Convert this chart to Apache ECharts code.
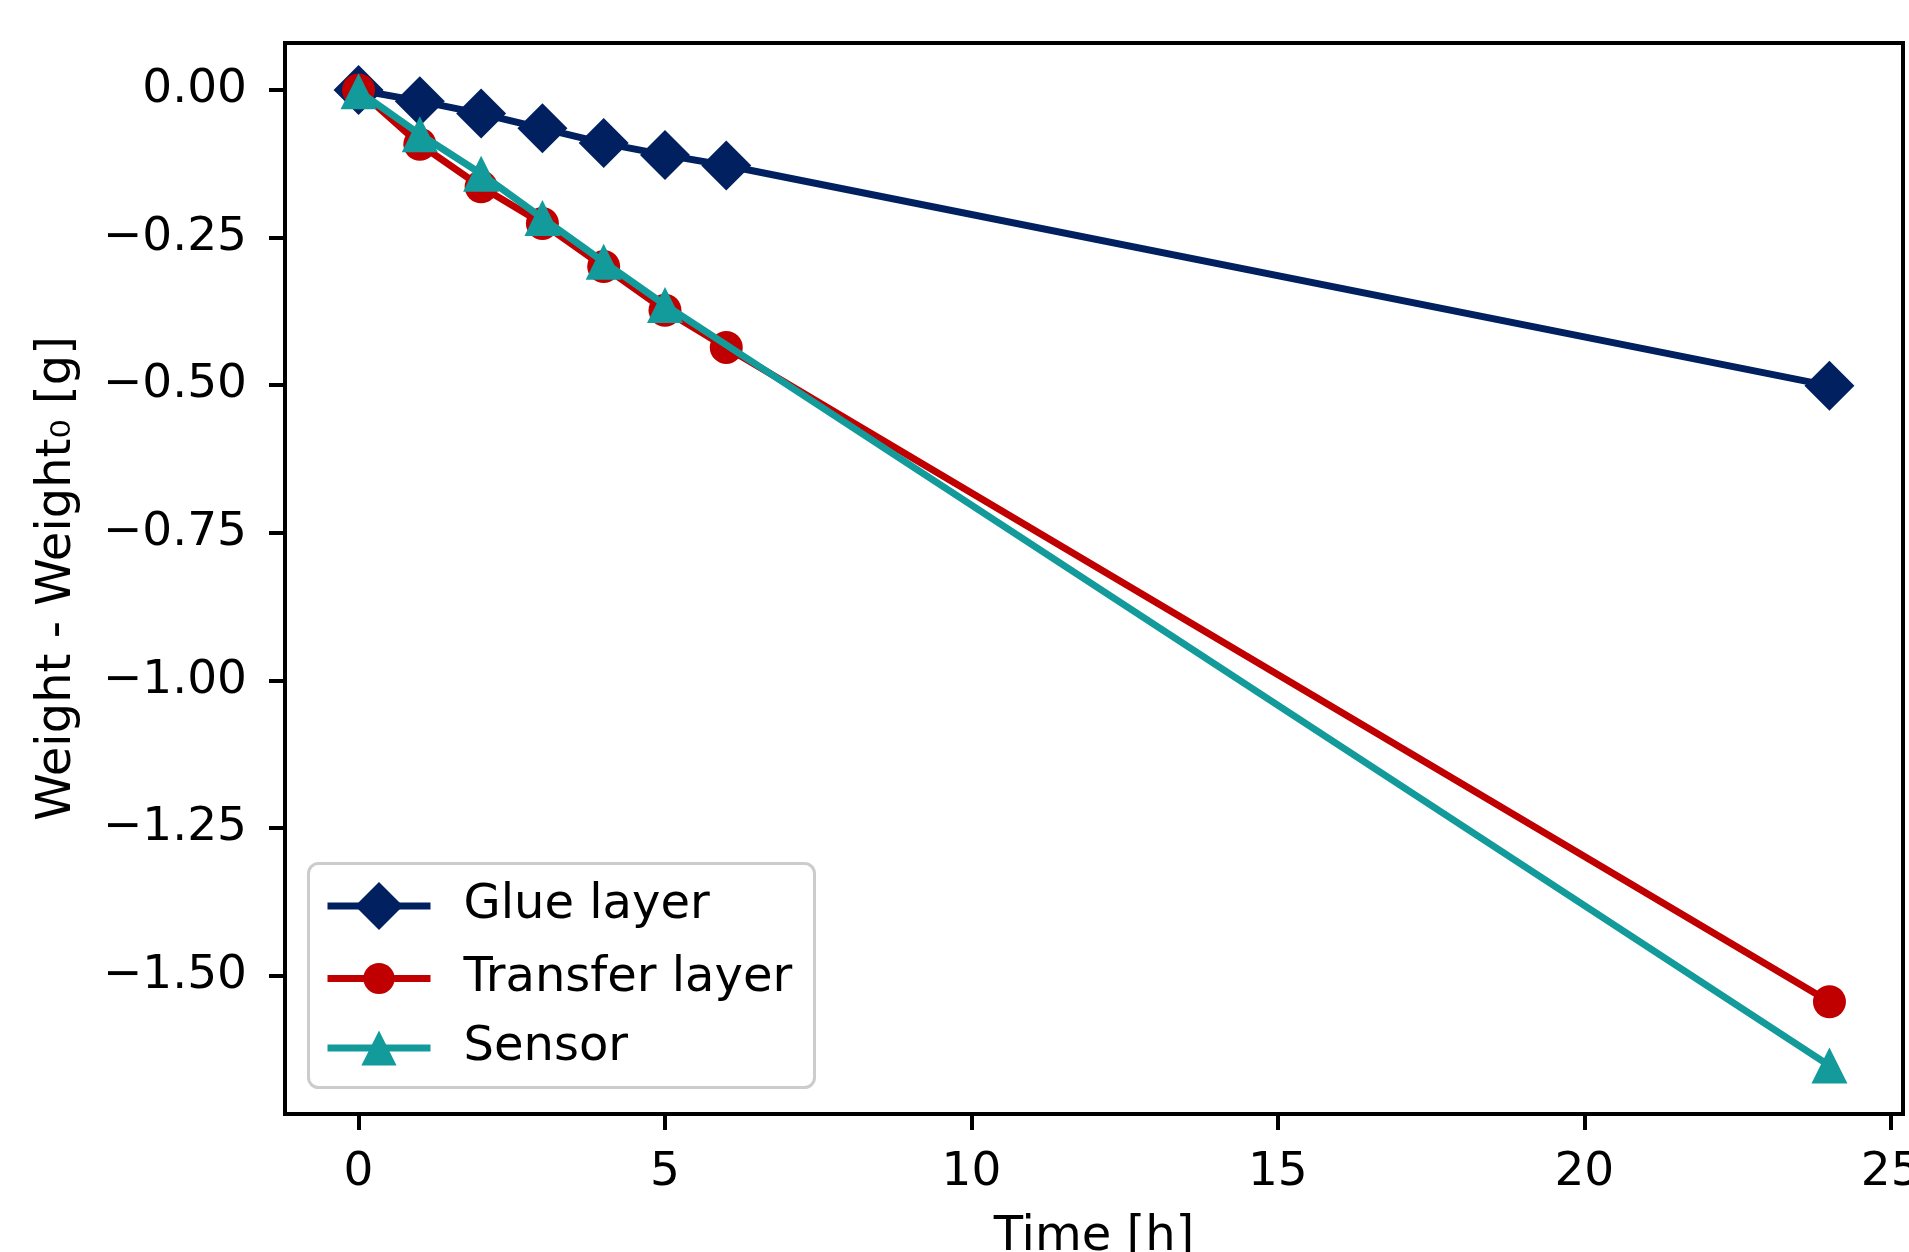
<!DOCTYPE html>
<html><head><meta charset="utf-8">
<script src="https://cdn.jsdelivr.net/npm/echarts@6/dist/echarts.min.js"></script>
<style>html,body{margin:0;padding:0;background:#fff}#c{width:1909px;height:1252px}</style>
</head><body><div id="c"></div>
<script>
// ---- data ----
const hours = [0, 1, 2, 3, 4, 5, 6, 24];
const glueLayer = [0, -0.019, -0.040, -0.065, -0.090, -0.110, -0.128, -0.501];
const transferLayer = [0, -0.092, -0.164, -0.226, -0.299, -0.373, -0.436, -1.544];
const sensorHours = [0, 1, 2, 3, 4, 5, 24];
const sensor = [-0.002, -0.075, -0.142, -0.217, -0.291, -0.364, -1.652];
const xTickValues = [0, 5, 10, 15, 20, 25];
const yTickValues = [0, -0.25, -0.5, -0.75, -1.0, -1.25, -1.5];
const seriesNames = ['Glue layer', 'Transfer layer', 'Sensor'];
const seriesColors = ['#002060', '#C00000', '#139A9A'];

const FONT = 'DejaVu Sans';
const pair = (xs, ys) => xs.map((x, i) => [x, ys[i]]);
const fmtY = v => (v < 0 ? '\u2212' : '') + Math.abs(v).toFixed(2);

const chart = echarts.init(document.getElementById('c'), null, {renderer: 'canvas'});

function mkLegend(name, itemHeight, centerY) {
  return {
    data: [name], orient: 'vertical', left: 324, top: centerY - itemHeight / 2,
    padding: 0, itemWidth: 103, itemHeight: itemHeight, selectedMode: false,
    lineStyle: {width: 7},
    textStyle: {fontFamily: FONT, fontSize: 48, color: '#000', lineHeight: 30, padding: [0, 0, 0, 28]},
    z: 10
  };
}

chart.setOption({
  animation: false,
  backgroundColor: '#fff',
  grid: {left: 285, right: 6, top: 43, bottom: 138, containLabel: false, outerBoundsMode: 'none',
         show: true, borderColor: '#000', borderWidth: 4, backgroundColor: 'transparent'},
  xAxis: {
    type: 'value', min: -1.2, max: 25.2,
    name: 'Time [h]', nameLocation: 'middle', nameGap: 100,
    nameTextStyle: {fontFamily: FONT, fontSize: 48, color: '#000'},
    axisLine: {show: true, onZero: false, lineStyle: {color: '#000', width: 4}},
    axisTick: {show: true, length: 16, customValues: xTickValues, lineStyle: {color: '#000', width: 4}},
    axisLabel: {customValues: xTickValues, margin: 35, fontFamily: FONT, fontSize: 47, color: '#000',
                formatter: v => String(v)},
    splitLine: {show: false}
  },
  yAxis: {
    type: 'value', min: -1.734, max: 0.0795,
    name: 'Weight - Weight\u2080 [g]', nameLocation: 'middle', nameGap: 203,
    nameTextStyle: {fontFamily: FONT, fontSize: 48, color: '#000'},
    axisLine: {show: true, onZero: false, lineStyle: {color: '#000', width: 4}},
    axisTick: {show: true, length: 16, customValues: yTickValues, lineStyle: {color: '#000', width: 4}},
    axisLabel: {customValues: yTickValues, margin: 38, fontFamily: FONT, fontSize: 47, color: '#000',
                formatter: fmtY},
    splitLine: {show: false}
  },
  legend: [
    mkLegend(seriesNames[0], 60, 912),
    mkLegend(seriesNames[1], 39, 974),
    mkLegend(seriesNames[2], 44, 1046)
  ],
  graphic: [{
    type: 'rect', left: 307, top: 862, z: 5,
    shape: {width: 506, height: 224, r: 10},
    style: {fill: 'rgba(255,255,255,0.8)', stroke: '#cccccc', lineWidth: 3}
  }],
  series: [
    {name: seriesNames[0], type: 'line', data: pair(hours, glueLayer), symbol: 'diamond', symbolSize: 50,
     lineStyle: {color: seriesColors[0], width: 7}, itemStyle: {color: seriesColors[0]}, z: 2},
    {name: seriesNames[1], type: 'line', data: pair(hours, transferLayer), symbol: 'circle', symbolSize: 33,
     lineStyle: {color: seriesColors[1], width: 7}, itemStyle: {color: seriesColors[1]}, z: 3},
    {name: seriesNames[2], type: 'line', data: pair(sensorHours, sensor), symbol: 'triangle', symbolSize: 36,
     lineStyle: {color: seriesColors[2], width: 7}, itemStyle: {color: seriesColors[2]}, z: 4}
  ]
});
</script>
</body></html>
